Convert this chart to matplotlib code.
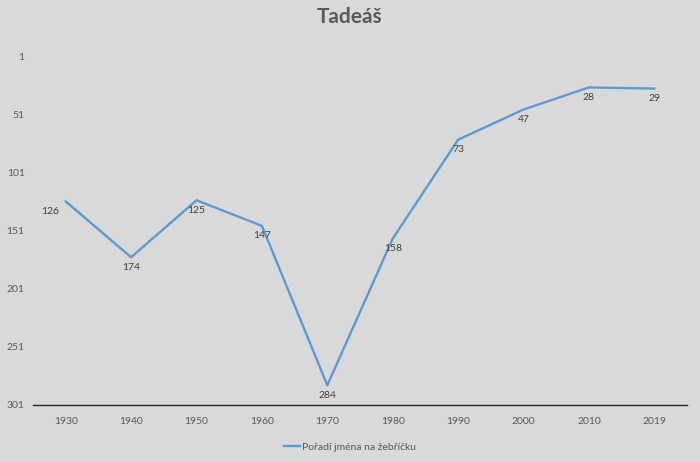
import matplotlib.pyplot as plt
import numpy as np

plt.rcParams['font.family'] = ['Lato', 'DejaVu Sans']

# Data
years = ["1930", "1940", "1950", "1960", "1970", "1980", "1990", "2000", "2010", "2019"]
ranks = [126, 174, 125, 147, 284, 158, 73, 47, 28, 29]
series_name = "Pořadí jména na žebříčku"
y_ticks = [1, 51, 101, 151, 201, 251, 301]

bg = "#d9d9d9"
text_col = "#595959"
line_col = "#5b9bd5"

fig = plt.figure(figsize=(7, 4.62), dpi=100, facecolor=bg)
ax = fig.add_axes([33 / 700, 57 / 462, 654 / 700, 349 / 462], facecolor=bg)

x = np.arange(len(years))
ax.plot(x, ranks, color=line_col, linewidth=1.7, label=series_name)

# data labels
for i, v in enumerate(ranks):
    if i == 0:
        ax.annotate(str(v), (x[i], v), xytext=(-5, -7), textcoords="offset points",
                    ha="right", va="center", fontsize=7.5, color="#404040")
    else:
        ax.annotate(str(v), (x[i], v), xytext=(0, -4), textcoords="offset points",
                    ha="center", va="top", fontsize=7.5, color="#404040")

ax.set_xlim(-0.5, len(years) - 0.5)
ax.set_ylim(301, 1)
ax.set_yticks(y_ticks)
ax.set_xticks(x)
ax.set_xticklabels(years)
ax.tick_params(axis="both", length=0, labelsize=7.5, labelcolor=text_col)
ax.tick_params(axis="x", pad=9)
ax.tick_params(axis="y", pad=6)

for s in ["top", "right", "left"]:
    ax.spines[s].set_visible(False)
ax.spines["bottom"].set_color("#262626")
ax.spines["bottom"].set_linewidth(1.0)

fig.text(0.5, 1 - 17 / 462, "Tadeáš", ha="center", va="center",
         fontsize=15, fontweight="bold", color=text_col)

fig.legend(loc="center", bbox_to_anchor=(0.5, 1 - 447 / 462), frameon=False,
           fontsize=7.5, labelcolor=text_col, handlelength=1.6, handletextpad=0.2)

fig.savefig("out.png", dpi=100, facecolor=bg)
